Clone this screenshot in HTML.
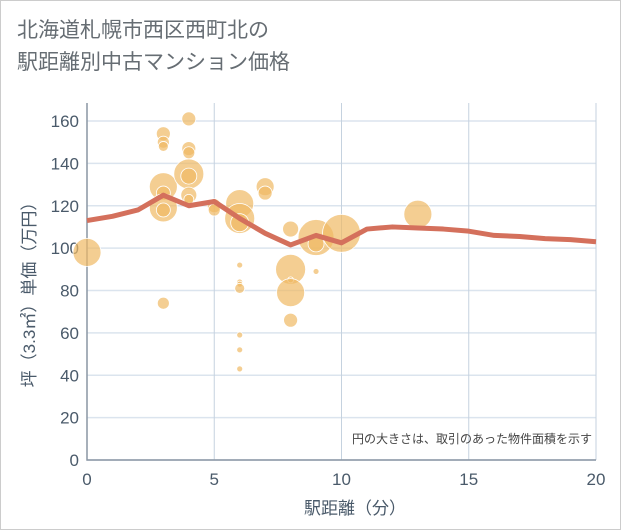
<!DOCTYPE html>
<html><head><meta charset="utf-8"><style>
body{margin:0;background:#fff;}
#wrap{position:relative;width:619px;height:528px;border:1px solid #ccc;background:#fff;font-family:"Liberation Sans","Noto Sans CJK JP",sans-serif;}
#title{position:absolute;left:16px;top:14px;font-size:21px;line-height:32px;color:#666d73;}
</style></head><body>
<div id="wrap">
<div id="title">北海道札幌市西区西町北の<br>駅距離別中古マンション価格</div>
<svg id="chart" width="621" height="530" style="position:absolute;left:-1px;top:-1px"></svg>
</div>
<script>
const xTicks=[0,5,10,15,20];
const yTicks=[0,20,40,60,80,100,120,140,160];
const lineX=[0,1,2,3,4,5,6,7,8,9,10,11,12,13,14,15,16,17,18,19,20];
const lineY=[113,115,118,125,120,122,114,107,101.5,106,102.5,109,110,109.5,109,108,106,105.5,104.5,104,103];
const bubX=[0,3,3,3,3,3,3,3,3,4,4,4,4,4,4,4,5,5,6,6,6,6,6,6,6,6,6,6,7,7,8,8,8,8,8,9,9,9,10,13];
const bubY=[98,154,150,148,129,126,119,118,74,161,147,145,135,134,125,123,120,118,121,114,112,92,84,83,81,59,52,43,129,126,109,90,85,79,66,105,102,89,107,116];
const bubR=[14,7,6,5,14,7,14,7,6,7,7,6,15,8,8,5,7,6,14,15,9,3,3,3,5,3,3,3,9,7,8,15,3,14,7,18,8,3,19,14];
const X0=87,X1=596,Y0=460,Y1=121;
const sx=v=>X0+(X1-X0)*v/20, sy=v=>Y0-(Y0-Y1)*v/160;
const svg=document.getElementById('chart'),NS='http://www.w3.org/2000/svg';
function mk(t,a,p){const e=document.createElementNS(NS,t);for(const k in a)e.setAttribute(k,a[k]);(p||svg).appendChild(e);return e;}
yTicks.forEach(v=>{
 const l=mk('line',{x1:X0,x2:X1,y1:sy(v),y2:sy(v),stroke:'#dbe4ee','stroke-width':1.5});
 
 
 const t=mk('text',{x:X0-8,y:sy(v)+6,'text-anchor':'end','font-size':17,fill:'#4a5a6a'});
 t.textContent=v;
 
 
});
xTicks.forEach(v=>{
 const l=mk('line',{x1:sx(v),x2:sx(v),y1:Y1-18,y2:Y0,stroke:'#c5d2df','stroke-width':1});
 
 
 const t=mk('text',{x:sx(v),y:Y0+25,'text-anchor':'middle','font-size':17,fill:'#4a5a6a'});
 t.textContent=v;
 
 
});
const ax=mk('path',{d:`M${X0} ${Y1-18}V${Y0}H${X1}`,stroke:'#8a96a3',fill:'none','stroke-width':1.5});


bubX.forEach((v,i)=>{
 const c=mk('circle',{cx:sx(v),cy:sy(bubY[i]),r:bubR[i],fill:'rgba(240,185,100,0.7)',stroke:'#fff','stroke-width':0.8});
 
 
});
const pl=mk('polyline',{points:lineX.map((v,i)=>sx(v)+','+sy(lineY[i])).join(' '),fill:'none',stroke:'#d4705c','stroke-width':5,'stroke-linejoin':'round'});


const note=mk('text',{x:592,y:443,'text-anchor':'end','font-size':12,fill:'#444'});
note.textContent='円の大きさは、取引のあった物件面積を示す';


const xt=mk('text',{x:355,y:514,'text-anchor':'middle','font-size':17,fill:'#4a5a6a'});
xt.textContent='駅距離（分）';


const yt=mk('text',{x:0,y:0,'text-anchor':'middle','font-size':17,fill:'#4a5a6a',transform:`translate(35,${(Y0+Y1)/2}) rotate(-90)`});
yt.textContent='坪（3.3㎡）単価（万円）';


</script>
</body></html>
